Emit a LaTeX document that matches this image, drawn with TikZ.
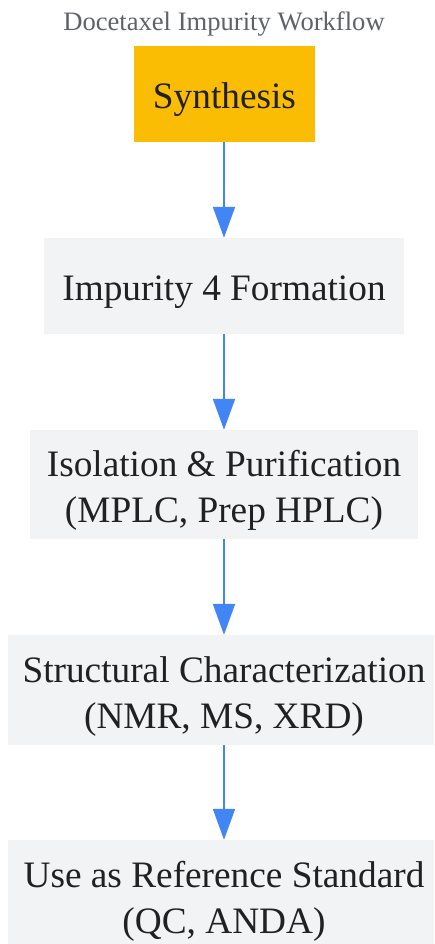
\documentclass[tikz,border=0pt]{standalone}
\usepackage{fontspec}
\setmainfont{Liberation Serif}
\usetikzlibrary{arrows.meta}
\definecolor{stepfill}{HTML}{F1F3F4}
\definecolor{startfill}{HTML}{FBBC04}
\definecolor{flowblue}{HTML}{4285F4}
\definecolor{inktext}{HTML}{202124}
\definecolor{titlegray}{HTML}{5F6368}
\newcommand{\topstrut}{\rule{0pt}{38pt}}
\begin{document}
\begin{tikzpicture}[x=1pt,y=-1pt,
    stage/.style={fill=stepfill,text=inktext,inner sep=0pt,align=center,
      font=\fontsize{37.3}{46}\selectfont},
    flow/.style={draw=flowblue,line width=2pt,-{Triangle[length=31pt,width=22pt]}}]
  \useasboundingbox (0,0) rectangle (434,944);
  \clip (0,0) rectangle (434,944);
  \fill[white] (0,0) rectangle (434,944);
  \draw
    (224,24.5) node[text=titlegray,font=\fontsize{26.6}{32}\selectfont] (title){Docetaxel Impurity Workflow}
    (224.5,94) node[stage,fill=startfill,minimum width=181pt,minimum height=96pt] (synth){\topstrut Synthesis}
    (224,286) node[stage,minimum width=360pt,minimum height=96pt] (form){\topstrut Impurity 4 Formation}
    (224,484.5) node[stage,minimum width=388pt,minimum height=109pt] (iso){\topstrut Isolation \& Purification\\(MPLC, Prep HPLC)}
    (224,690) node[stage,minimum width=432pt,minimum height=110pt] (char){\topstrut Structural Characterization\\(NMR, MS, XRD)}
    (224,895) node[stage,minimum width=432pt,minimum height=110pt] (refstd){\topstrut Use as Reference Standard\\(QC, ANDA)};
  \begin{scope}[flow]
    \draw (synth.south -| 224,0) to (form.north -| 224,0);
    \draw (form) to (iso);
    \draw (iso) to (char);
    \draw (char) to (refstd);
  \end{scope}
\end{tikzpicture}
\end{document}
